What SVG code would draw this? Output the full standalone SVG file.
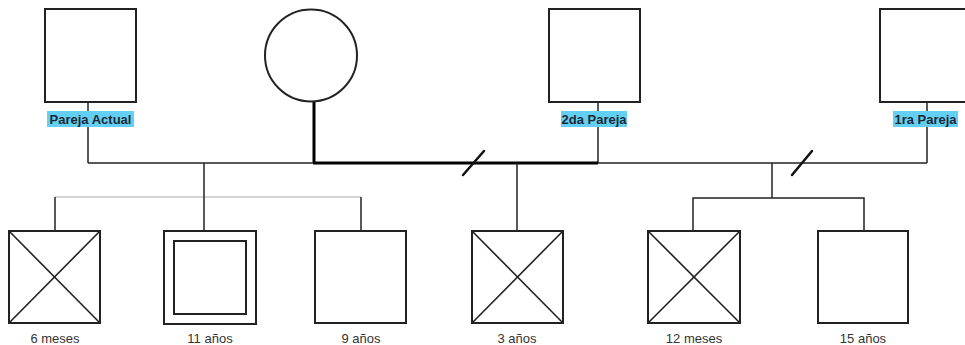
<svg xmlns="http://www.w3.org/2000/svg" width="965" height="345" viewBox="0 0 965 345">
  <style>
    .box { fill: #fff; stroke: #222; stroke-width: 2; }
    .cross { stroke: #222; stroke-width: 1.6; }
    .line { fill: none; stroke: #222; stroke-width: 1.5; }
    .thick { fill: none; stroke: #000; stroke-width: 3; }
    .faint { fill: none; stroke: #c4c4c4; stroke-width: 1.5; }
    .slash { stroke: #111; stroke-width: 2.5; stroke-linecap: round; }
    .hl { fill: #63d0f3; }
    .plabel { font-family: "Liberation Sans", Arial, sans-serif; font-size: 13px; font-weight: bold; fill: #1c2833; text-anchor: middle; }
    .clabel { font-family: "Liberation Sans", Arial, sans-serif; font-size: 13px; fill: #333; text-anchor: middle; }
  </style>
  <rect width="965" height="345" fill="#fff"/>

  <!-- Connectors -->
  <g id="connectors">
    <!-- partner drops -->
    <line class="line" x1="88" y1="102" x2="88" y2="163"/>
    <line class="thick" x1="314" y1="102" x2="314" y2="163"/>
    <line class="line" x1="598" y1="102" x2="598" y2="163"/>
    <line class="line" x1="927" y1="102" x2="927" y2="163"/>
    <!-- marriage lines -->
    <line class="line" x1="88" y1="163" x2="314" y2="163"/>
    <line class="thick" x1="313" y1="163" x2="598" y2="163"/>
    <line class="line" x1="598" y1="163" x2="927" y2="163"/>
    <!-- separation marks -->
    <line class="slash" x1="463" y1="175" x2="484" y2="151"/>
    <line class="slash" x1="792" y1="175" x2="812" y2="151"/>
    <!-- children of current partner -->
    <line class="faint" x1="55" y1="197" x2="361" y2="197"/>
    <line class="line" x1="204" y1="163" x2="204" y2="231"/>
    <line class="line" x1="55" y1="197" x2="55" y2="231"/>
    <line class="line" x1="361" y1="197" x2="361" y2="231"/>
    <!-- child of 2nd partner -->
    <line class="line" x1="517" y1="163" x2="517" y2="231"/>
    <!-- children of 1st partner -->
    <line class="line" x1="772" y1="163" x2="772" y2="198"/>
    <path class="line" d="M693 231 V198 H864 V231"/>
  </g>

  <!-- Parents -->
  <g id="pareja-actual">
    <rect class="box" x="45" y="9" width="91" height="93"/>
    <rect class="hl" x="47" y="111" width="87" height="16"/>
    <text class="plabel" x="90.5" y="124">Pareja Actual</text>
  </g>
  <g id="madre">
    <circle class="box" cx="311" cy="55.5" r="46"/>
  </g>
  <g id="segunda-pareja">
    <rect class="box" x="549" y="9" width="91" height="93"/>
    <rect class="hl" x="561" y="111" width="66" height="16"/>
    <text class="plabel" x="594" y="124">2da Pareja</text>
  </g>
  <g id="primera-pareja">
    <rect class="box" x="880" y="9" width="91" height="93"/>
    <rect class="hl" x="893" y="111" width="65" height="16"/>
    <text class="plabel" x="925.5" y="124">1ra Pareja</text>
  </g>

  <!-- Children -->
  <g id="hijo-6-meses">
    <rect class="box" x="9" y="231" width="91" height="92"/>
    <line class="cross" x1="9" y1="231" x2="100" y2="323"/>
    <line class="cross" x1="100" y1="231" x2="9" y2="323"/>
    <text class="clabel" x="55" y="343">6 meses</text>
  </g>
  <g id="hijo-11-anos">
    <rect class="box" x="164" y="231" width="92" height="93"/>
    <rect class="box" x="174" y="241" width="72" height="73"/>
    <text class="clabel" x="210" y="343">11 años</text>
  </g>
  <g id="hijo-9-anos">
    <rect class="box" x="315" y="231" width="91" height="92"/>
    <text class="clabel" x="361" y="343">9 años</text>
  </g>
  <g id="hijo-3-anos">
    <rect class="box" x="472" y="231" width="91" height="92"/>
    <line class="cross" x1="472" y1="231" x2="563" y2="323"/>
    <line class="cross" x1="563" y1="231" x2="472" y2="323"/>
    <text class="clabel" x="517" y="343">3 años</text>
  </g>
  <g id="hijo-12-meses">
    <rect class="box" x="648" y="231" width="92" height="92"/>
    <line class="cross" x1="648" y1="231" x2="740" y2="323"/>
    <line class="cross" x1="740" y1="231" x2="648" y2="323"/>
    <text class="clabel" x="694" y="343">12 meses</text>
  </g>
  <g id="hijo-15-anos">
    <rect class="box" x="818" y="231" width="90" height="92"/>
    <text class="clabel" x="863" y="343">15 años</text>
  </g>
</svg>
